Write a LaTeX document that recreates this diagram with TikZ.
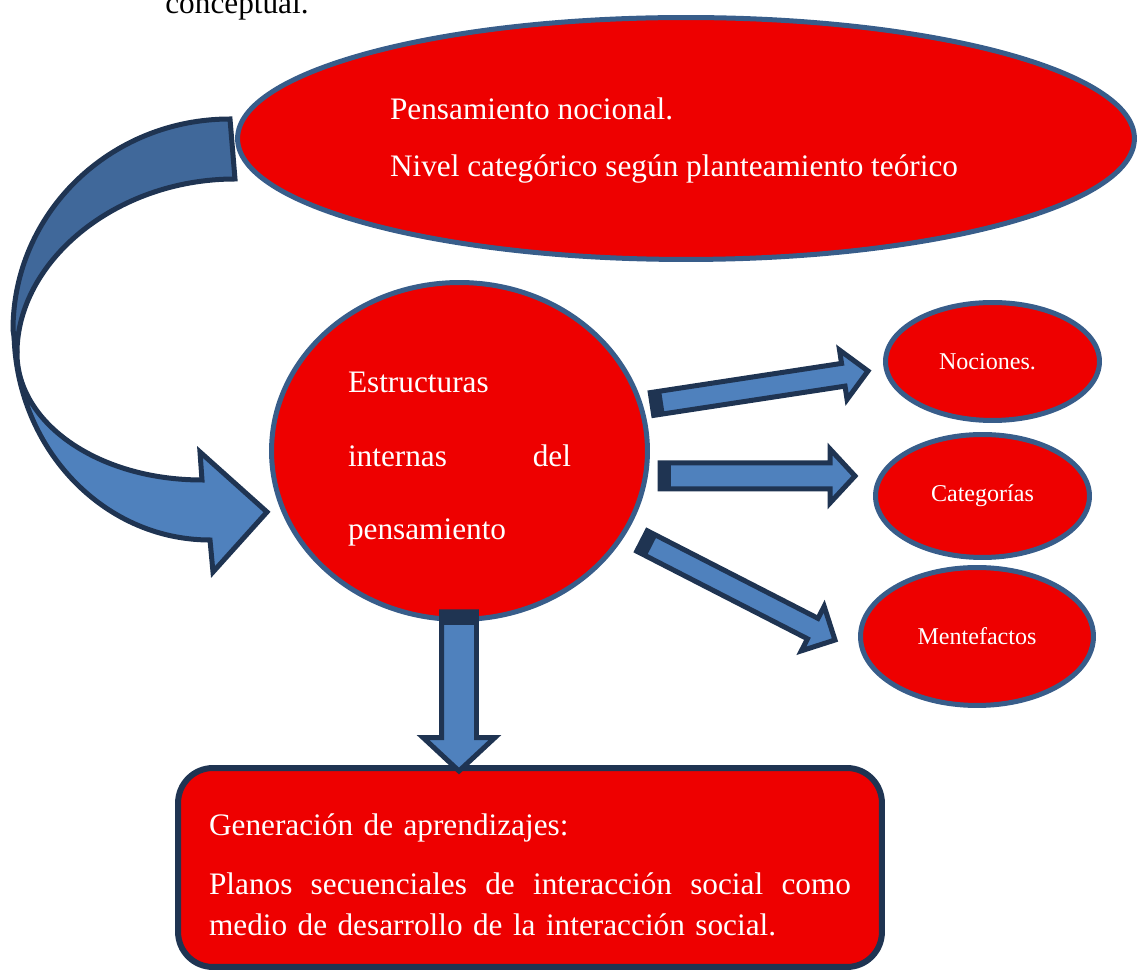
\documentclass[tikz,border=0pt]{standalone}
\usepackage{fontspec}
\setmainfont{Liberation Serif}
\usetikzlibrary{shapes.geometric,calc}

\definecolor{rojo}{RGB}{238, 0, 0}
\definecolor{azul}{RGB}{79, 129, 189}
\definecolor{azuloscuro}{RGB}{64, 104, 154}
\definecolor{marino}{RGB}{31, 52, 82}
\definecolor{contorno}{RGB}{56, 93, 138}

\tikzset{
  nube/.style={ellipse, fill=rojo, draw=contorno, line width=0.1cm, text=white, inner sep=0pt},
  bloque/.style={fill=azul, draw=marino, line width=0.1cm},
  caja/.style={rectangle, rounded corners=0.7cm, fill=rojo, draw=marino, line width=0.12cm, text=white, inner sep=0pt},
  grande/.style={font=\fontsize{17.8}{23.6}\selectfont},
  chica/.style={font=\fontsize{13.7}{16}\selectfont},
}

\begin{document}
\begin{tikzpicture}[x=0.02cm, y=-0.02cm]
  \useasboundingbox (0, 0) rectangle (1137, 972);
  \node[grande, anchor=base west, inner sep=0pt] (titulo) at (165, 14) {conceptual.};

  % flecha curva
  \draw[bloque] (14, 330) .. controls (14, 446) and (102, 540) .. (210, 540)
    -- (213, 572) -- (267, 512) -- (200, 452) -- (202, 480)
    .. controls (98, 480) and (17, 423) .. (17, 353) -- cycle;
  \draw[bloque, fill=azuloscuro] (230, 119) .. controls (110, 119) and (13, 213) .. (13, 330)
    -- (17, 353) .. controls (17, 262) and (115, 179) .. (235, 179) -- cycle;

  \node[nube, grande, align=left, minimum width=17.94cm, minimum height=4.84cm] (nocional) at (686, 138.5)
    {\rule{0pt}{15pt}Pensamiento nocional.\\[9pt] Nivel categórico según planteamiento teórico\hspace*{0.48cm}};
  \node[nube, grande, align=left, text width=4.46cm, minimum width=7.52cm, minimum height=6.74cm] (estructuras) at (459.5, 451)
    {\rule{0pt}{21pt}Estructuras\\[18.4pt] internas\hfill del\\[18.4pt] pensamiento};
  \node[nube, chica, minimum width=4.28cm, minimum height=2.36cm] (nociones) at (992.5, 361.5) {Nociones.\hspace*{0.2cm}};
  \node[nube, chica, minimum width=4.28cm, minimum height=2.46cm] (categorias) at (982.5, 496) {Categorías};
  \node[nube, chica, minimum width=4.66cm, minimum height=2.76cm] (mentefactos) at (977, 636.5) {Mentefactos};
  \node[caja, grande, align=left, text width=12.84cm, minimum width=14.08cm, minimum height=3.98cm] (aprendizajes) at (530, 867.5)
    {\rule{0pt}{21pt}Generación de aprendizajes:\\[10pt]
     Planos \hfill secuenciales \hfill de \hfill interacción \hfill social \hfill como\\
     medio de desarrollo de la interacción social.};

  % flechas rectas
  \coordinate (f1a) at (652, 404);
  \coordinate (f1b) at (868, 371);
  \coordinate (f2a) at (660, 476);
  \coordinate (f2b) at (855, 476);
  \coordinate (f3a) at (642, 541);
  \coordinate (f3b) at (835, 640);
  \coordinate (f4a) at (459, 612);
  \coordinate (f4b) at (459, 771);
  \foreach \ini/\fin/\ancho/\cabeza/\largo/\cola in {f1a/f1b/0.23cm/0.5cm/0.5cm/0.22cm, f2a/f2b/0.26cm/0.54cm/0.5cm/0.22cm, f3a/f3b/0.23cm/0.5cm/0.5cm/0.22cm, f4a/f4b/0.35cm/0.72cm/0.67cm/0.26cm} {
    \coordinate (h) at ($(\fin)!\largo!(\ini)$);
    \coordinate (t) at ($(\ini)!\cola!(\fin)$);
    \draw[bloque] ($(\ini)!\ancho!90:(\fin)$) -- ($(h)!\ancho!90:(\fin)$) -- ($(h)!\cabeza!90:(\fin)$) -- (\fin)
      -- ($(h)!\cabeza!-90:(\fin)$) -- ($(h)!\ancho!-90:(\fin)$) -- ($(\ini)!\ancho!-90:(\fin)$) -- cycle;
    \fill[marino] ($(\ini)!\ancho!90:(\fin)$) -- ($(t)!\ancho!90:(\fin)$) -- ($(t)!\ancho!-90:(\fin)$) -- ($(\ini)!\ancho!-90:(\fin)$) -- cycle;
  }
\end{tikzpicture}
\end{document}
